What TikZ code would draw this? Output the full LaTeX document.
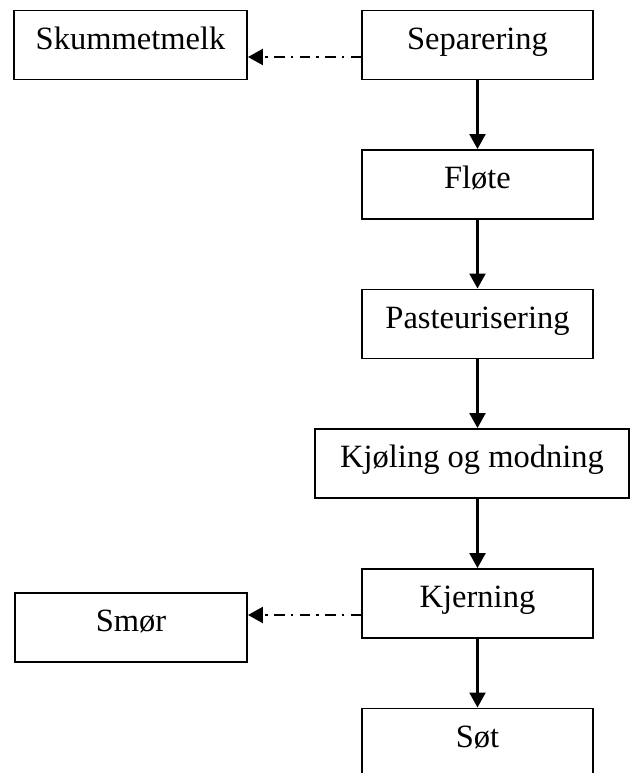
\documentclass[tikz,border=0pt]{standalone}
\usepackage{fontspec}
\setmainfont{Liberation Serif}
\usepackage{tikz}
\usetikzlibrary{arrows.meta}

\begin{document}
\begin{tikzpicture}[x=0.02cm,y=-0.02cm,
  boks/.style={draw,line width=1.1pt,minimum width=4.62cm,minimum height=1.38cm,
    text height=10pt,text depth=5pt,font=\fontsize{18.5}{22}\selectfont},
  pil/.style={line width=1.5pt,-{Triangle[length=8.5pt,width=9pt]}},
  sidepil/.style={pil,dash pattern=on 6pt off 3.5pt on 1.5pt off 3.5pt}]
\clip (0,0) rectangle (630,773);
% hovedlinje
\node[boks] (sep) at (477.5,45) {Separering};
\node[boks] (flo) at (477.5,184.5) {Fl\o te};
\node[boks] (pas) at (477.5,324) {Pasteurisering};
\node[boks,minimum width=6.28cm] (kjo) at (472,463.5) {Kj\o ling og modning};
\node[boks] (kje) at (477.5,603.5) {Kjerning};
\node[boks] (sot) at (477.5,743) {S\o t};
% sideprodukter
\node[boks,minimum width=4.66cm] (skm) at (130.5,45) {Skummetmelk};
\node[boks,minimum width=4.64cm] (smo) at (131,627.5) {Sm\o r};
\draw[pil] (sep) -- (flo);
\draw[pil] (flo) -- (pas);
\draw[pil] (pas.south) -- (pas.south |- kjo.north);
\draw[pil] (kje.north |- kjo.south) -- (kje.north);
\draw[pil] (kje) -- (sot);
\draw[sidepil] ([yshift=-0.24cm]sep.west) -- ([yshift=-0.24cm]sep.west -| skm.east);
\draw[sidepil] ([yshift=-0.23cm]kje.west) -- ([yshift=-0.23cm]kje.west -| smo.east);
\end{tikzpicture}
\end{document}
